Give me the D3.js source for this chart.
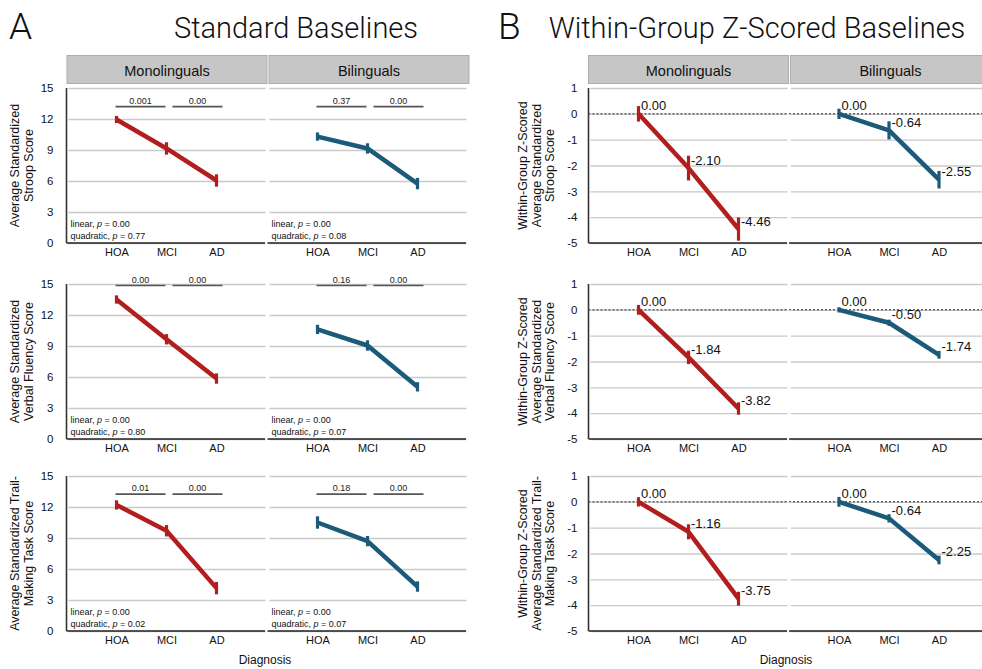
<!DOCTYPE html>
<html>
<head>
<meta charset="utf-8">
<script src="https://cdn.jsdelivr.net/npm/d3@7"></script>
<style>
  html, body { margin: 0; padding: 0; background: #fff; }
  svg { display: block; font-family: "Liberation Sans", Arial, sans-serif; }
</style>
</head>
<body>
<svg id="chart" width="982" height="669"></svg>
<script>
// ---------------- DATA ----------------
const categories = ["HOA", "MCI", "AD"];
const groups = ["Monolinguals", "Bilinguals"];
const stdTicks = [0, 3, 6, 9, 12, 15];
const zTicks = [-5, -4, -3, -2, -1, 0, 1];

// Standard baselines: means and error half-widths
const stroopStdMono = [11.95, 9.15, 6.05];
const stroopStdMonoErr = [0.35, 0.6, 0.6];
const stroopStdBi = [10.3, 9.15, 5.75];
const stroopStdBiErr = [0.4, 0.5, 0.55];
const fluencyStdMono = [13.5, 9.65, 5.85];
const fluencyStdMonoErr = [0.4, 0.5, 0.5];
const fluencyStdBi = [10.6, 9.05, 5.05];
const fluencyStdBiErr = [0.45, 0.5, 0.45];
const trailStdMono = [12.2, 9.7, 4.15];
const trailStdMonoErr = [0.45, 0.55, 0.6];
const trailStdBi = [10.5, 8.7, 4.3];
const trailStdBiErr = [0.6, 0.5, 0.5];

// Pairwise p-values (HOA-MCI, MCI-AD) and their bar level
const stroopSigMono = ["0.001", "0.00"];
const stroopSigBi = ["0.37", "0.00"];
const fluencySigMono = ["0.00", "0.00"];
const fluencySigBi = ["0.16", "0.00"];
const trailSigMono = ["0.01", "0.00"];
const trailSigBi = ["0.18", "0.00"];
const sigLevels = [13.2, 14.85, 13.25];

// Trend tests: [linear p, quadratic p]
const stroopTrendMono = ["0.00", "0.77"];
const stroopTrendBi = ["0.00", "0.08"];
const fluencyTrendMono = ["0.00", "0.80"];
const fluencyTrendBi = ["0.00", "0.07"];
const trailTrendMono = ["0.00", "0.02"];
const trailTrendBi = ["0.00", "0.07"];

// Within-group z-scored baselines
const stroopZMono = [0.00, -2.10, -4.46];
const stroopZMonoErr = [0.3, 0.48, 0.45];
const stroopZBi = [0.00, -0.64, -2.55];
const stroopZBiErr = [0.2, 0.35, 0.34];
const fluencyZMono = [0.00, -1.84, -3.82];
const fluencyZMonoErr = [0.19, 0.26, 0.24];
const fluencyZBi = [0.00, -0.50, -1.74];
const fluencyZBiErr = [0.1, 0.12, 0.15];
const trailZMono = [0.00, -1.16, -3.75];
const trailZMonoErr = [0.18, 0.29, 0.27];
const trailZBi = [0.00, -0.64, -2.25];
const trailZBiErr = [0.19, 0.16, 0.17];

const stdTitles = [
  ["Average Standardized", "Stroop Score"],
  ["Average Standardized", "Verbal Fluency  Score"],
  ["Average Standardized Trail-", "Making Task Score"]
];
const zTitles = [
  ["Within-Group Z-Scored", "Average Standardized", "Stroop Score"],
  ["Within-Group Z-Scored", "Average Standardized", "Verbal Fluency  Score"],
  ["Within-Group Z-Scored", "Average Standardized Trail-", "Making Task Score"]
];

// ---------------- LAYOUT ----------------
const COLORS = { Monolinguals: "#b21e1e", Bilinguals: "#1c5a7a" };
const rowTops = [88, 284, 476];
const rowH = 155;
const panelW = 200;
const stdX0 = [66.5, 267.5];
const zX0 = [588.5, 789];

const loc = d3.formatLocale({ decimal: ".", thousands: ",", grouping: [3], currency: ["$", ""], minus: "-" });
const f2 = loc.format(".2f");
const fd = loc.format("d");

const svg = d3.select("#chart");

// Titles
function title(x, y, text, size, anchor) {
  svg.append("text").attr("x", x).attr("y", y).attr("text-anchor", anchor || "start")
    .style("font-family", "Roboto, 'Liberation Sans', sans-serif").style("font-weight", 300)
    .style("font-size", size + "px").attr("fill", "#111").text(text);
}
title(9, 39, "A", 37);
title(296, 38, "Standard Baselines", 29, "middle");
title(498, 39, "B", 37);
title(757, 38, "Within-Group Z-Scored Baselines", 29, "middle");

// Strips
function strip(x, w, label) {
  svg.append("rect").attr("x", x).attr("y", 55.5).attr("width", w).attr("height", 28)
    .attr("fill", "#c6c6c6").attr("stroke", "#adadad").attr("stroke-width", 1);
  svg.append("text").attr("x", x + w / 2).attr("y", 75.5).attr("text-anchor", "middle")
    .style("font-size", "14.5px").attr("fill", "#111").text(label);
}
strip(67, 200, groups[0]);
strip(269, 200, groups[1]);
strip(588.5, 200, groups[0]);
strip(790.5, 200, groups[1]);

const stdRows = [
  { mono: stroopStdMono, monoErr: stroopStdMonoErr, bi: stroopStdBi, biErr: stroopStdBiErr,
    sigMono: stroopSigMono, sigBi: stroopSigBi, trMono: stroopTrendMono, trBi: stroopTrendBi },
  { mono: fluencyStdMono, monoErr: fluencyStdMonoErr, bi: fluencyStdBi, biErr: fluencyStdBiErr,
    sigMono: fluencySigMono, sigBi: fluencySigBi, trMono: fluencyTrendMono, trBi: fluencyTrendBi },
  { mono: trailStdMono, monoErr: trailStdMonoErr, bi: trailStdBi, biErr: trailStdBiErr,
    sigMono: trailSigMono, sigBi: trailSigBi, trMono: trailTrendMono, trBi: trailTrendBi }
];
const zRows = [
  { mono: stroopZMono, monoErr: stroopZMonoErr, bi: stroopZBi, biErr: stroopZBiErr },
  { mono: fluencyZMono, monoErr: fluencyZMonoErr, bi: fluencyZBi, biErr: fluencyZBiErr },
  { mono: trailZMono, monoErr: trailZMonoErr, bi: trailZBi, biErr: trailZBiErr }
];

function drawPanel(opts) {
  const { x0, top, domain, ticks, isFirst, means, errs, color, kind } = opts;
  const y = d3.scaleLinear().domain(domain).range([top + rowH, top]);
  const x = d3.scalePoint().domain(categories).range([x0, x0 + panelW]).padding(1);
  const g = svg.append("g");

  // gridlines
  const grid = g.append("g").attr("transform", `translate(${x0 + panelW - 1},0)`)
    .call(d3.axisLeft(y).tickValues(ticks).tickSize(panelW - 3).tickFormat(""));
  grid.select(".domain").remove();
  grid.selectAll("line").attr("stroke", "#c9c9c9").attr("stroke-width", 1.3);

  // zero reference line
  if (kind === "z") {
    g.append("line").attr("x1", x0).attr("x2", x0 + panelW)
      .attr("y1", y(0)).attr("y2", y(0))
      .attr("stroke", "#222").attr("stroke-width", 1).attr("stroke-dasharray", "2,2");
  }

  // bottom axis line
  g.append("line").attr("x1", x0).attr("x2", x0 + panelW - 1.5)
    .attr("y1", top + rowH).attr("y2", top + rowH).attr("stroke", "#222").attr("stroke-width", 1.6);

  // x tick labels
  const xa = g.append("g").attr("transform", `translate(0,${top + rowH})`)
    .call(d3.axisBottom(x).tickSize(0).tickPadding(5));
  xa.select(".domain").remove();
  xa.selectAll("text").style("font-size", "11px").style("font-family", "'Liberation Sans', Arial, sans-serif").attr("fill", "#111");

  if (isFirst) {
    g.append("line").attr("x1", x0).attr("x2", x0).attr("y1", top).attr("y2", top + rowH)
      .attr("stroke", "#333").attr("stroke-width", 1.6);
    const ya = g.append("g").attr("transform", `translate(${x0},0)`)
      .call(d3.axisLeft(y).tickValues(ticks).tickSize(0).tickPadding(kind === "z" ? 11 : 13).tickFormat(fd));
    ya.select(".domain").remove();
    ya.selectAll("text").style("font-size", "11.5px").style("font-family", "'Liberation Sans', Arial, sans-serif").attr("fill", "#111");
  }

  // line
  const line = d3.line().x((d, i) => x(categories[i])).y(d => y(d));
  g.append("path").datum(means).attr("d", line).attr("fill", "none")
    .attr("stroke", color).attr("stroke-width", 4.5).attr("stroke-linejoin", "round");
  // error bars
  g.selectAll(".eb").data(means).enter().append("line")
    .attr("x1", (d, i) => x(categories[i])).attr("x2", (d, i) => x(categories[i]))
    .attr("y1", (d, i) => y(d - errs[i])).attr("y2", (d, i) => y(d + errs[i]))
    .attr("stroke", color).attr("stroke-width", 3.2);

  return { x, y, g };
}

function yTitle(lines, xs, cy) {
  lines.forEach((t, i) => {
    svg.append("text").attr("transform", `translate(${xs[i]},${cy}) rotate(-90)`)
      .attr("text-anchor", "middle").attr("dominant-baseline", "central")
      .style("font-size", "12.5px").attr("fill", "#111").text(t);
  });
}

function trendText(g, x, yb, label, p) {
  const t = g.append("text").attr("x", x).attr("y", yb).style("font-size", "9px").attr("fill", "#111");
  t.append("tspan").text(label + ", ");
  t.append("tspan").style("font-style", "italic").text("p");
  t.append("tspan").text(" = " + p);
}

// Panel A rows
stdRows.forEach((r, ri) => {
  const top = rowTops[ri];
  [["Monolinguals", r.mono, r.monoErr, r.sigMono, r.trMono],
   ["Bilinguals", r.bi, r.biErr, r.sigBi, r.trBi]].forEach(([grp, m, e, sig, tr], gi) => {
    const { x, y, g } = drawPanel({ x0: stdX0[gi], top, domain: [0, 15], ticks: stdTicks,
      isFirst: gi === 0, means: m, errs: e, color: COLORS[grp], kind: "std" });
    const sy = y(sigLevels[ri]);
    const segs = [[x("HOA") - 1, x("MCI") - 1], [x("MCI") + 6, x("AD") + 6]];
    segs.forEach((s, si) => {
      g.append("line").attr("x1", s[0]).attr("x2", s[1]).attr("y1", sy).attr("y2", sy)
        .attr("stroke", "#555").attr("stroke-width", 1.6);
      g.append("text").attr("x", (s[0] + s[1]) / 2).attr("y", sy - 3).attr("text-anchor", "middle")
        .style("font-size", "9px").attr("fill", "#222").text(sig[si]);
    });
    const bx = stdX0[gi] + 4;
    trendText(g, bx, top + rowH - 16, "linear", tr[0]);
    trendText(g, bx, top + rowH - 4.5, "quadratic", tr[1]);
  });
  yTitle(stdTitles[ri], [15, 29], top + rowH / 2);
});

// Panel B rows
zRows.forEach((r, ri) => {
  const top = rowTops[ri];
  [["Monolinguals", r.mono, r.monoErr], ["Bilinguals", r.bi, r.biErr]].forEach(([grp, m, e], gi) => {
    const { x, y, g } = drawPanel({ x0: zX0[gi], top, domain: [-5, 1], ticks: zTicks,
      isFirst: gi === 0, means: m, errs: e, color: COLORS[grp], kind: "z" });
    g.selectAll(".lbl").data(m).enter().append("text")
      .attr("x", (d, i) => x(categories[i]) + 2.5).attr("y", d => y(d) - 3.5)
      .style("font-size", "13px").attr("fill", "#111").text(d => f2(d));
  });
  yTitle(zTitles[ri], [523, 536.5, 550], top + rowH / 2);
});

// Diagnosis labels
svg.append("text").attr("x", 265).attr("y", 664).attr("text-anchor", "middle")
  .style("font-size", "12px").attr("fill", "#111").text("Diagnosis");
svg.append("text").attr("x", 786).attr("y", 664).attr("text-anchor", "middle")
  .style("font-size", "12px").attr("fill", "#111").text("Diagnosis");
</script>
</body>
</html>
